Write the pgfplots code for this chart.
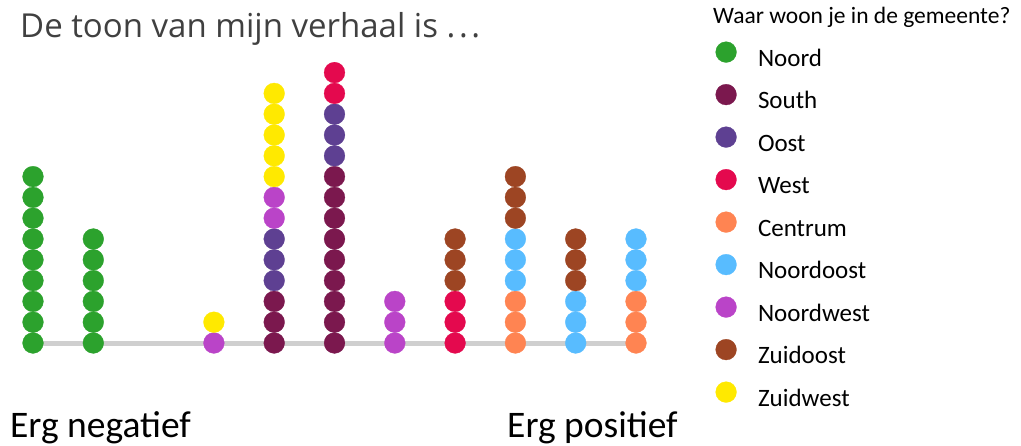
\documentclass[border=0pt]{standalone}
\usepackage{fontspec}
\setmainfont{Carlito}
\newfontfamily\titlefont{Open Sans}
\usepackage{pgfplots}
\pgfplotsset{compat=1.18}
\definecolor{cNoord}{RGB}{44,162,45}
\definecolor{cSouth}{RGB}{123,24,78}
\definecolor{cOost}{RGB}{94,64,146}
\definecolor{cWest}{RGB}{228,9,78}
\definecolor{cCentrum}{RGB}{255,132,82}
\definecolor{cNoordoost}{RGB}{88,188,255}
\definecolor{cNoordwest}{RGB}{186,68,200}
\definecolor{cZuidoost}{RGB}{157,69,35}
\definecolor{cZuidwest}{RGB}{255,233,0}
\definecolor{lgray}{RGB}{207,207,207}
\definecolor{titlegray}{RGB}{64,64,64}
\pgfplotsset{
  dot/.style={only marks, mark=*, mark size=10.4pt, color=#1, mark options={line width=0.3pt},
    legend image code/.code={\draw[##1] plot coordinates {(0pt,8pt)};}},
}
\begin{document}
\begin{tikzpicture}
\useasboundingbox (-2.85pt,-91.6pt) rectangle (1018.15pt,353.4pt);
\begin{axis}[
  at={(0pt,0pt)}, anchor=south west,
  scale only axis, width=663.3pt, height=296.4pt,
  xmin=-0.5, xmax=10.5, ymin=-0.5, ymax=13.75,
  hide axis,
  clip marker paths=true,
  legend cell align=left,
  legend style={at={(1.0744,1.0523)}, anchor=north west, draw=none, fill=none,
    inner sep=0pt, row sep=13.1pt, column sep=21.5pt,
    font=\fontsize{25}{30}\selectfont,
    nodes={inner sep=0pt, text height=17pt, text depth=5pt}},
]
\addplot[forget plot, color=lgray, line width=5pt] coordinates {(0,0) (10.07,0)};
% Noord
\addplot[dot=cNoord] coordinates {(0,0)(0,1)(0,2)(0,3)(0,4)(0,5)(0,6)(0,7)(0,8)
  (1,0)(1,1)(1,2)(1,3)(1,4)(1,5)};
\addlegendentry{Noord}
% South
\addplot[dot=cSouth] coordinates {(4,0)(4,1)(4,2)
  (5,0)(5,1)(5,2)(5,3)(5,4)(5,5)(5,6)(5,7)(5,8)};
\addlegendentry{South}
% Oost
\addplot[dot=cOost] coordinates {(4,3)(4,4)(4,5)(5,9)(5,10)(5,11)};
\addlegendentry{Oost}
% West
\addplot[dot=cWest] coordinates {(5,12)(5,13)(5,14)(7,0)(7,1)(7,2)};
\addlegendentry{West}
% Centrum
\addplot[dot=cCentrum] coordinates {(8,0)(8,1)(8,2)(10,0)(10,1)(10,2)};
\addlegendentry{Centrum}
% Noordoost
\addplot[dot=cNoordoost] coordinates {(8,3)(8,4)(8,5)(9,0)(9,1)(9,2)(10,3)(10,4)(10,5)};
\addlegendentry{Noordoost}
% Noordwest
\addplot[dot=cNoordwest] coordinates {(3,0)(4,6)(4,7)(6,0)(6,1)(6,2)};
\addlegendentry{Noordwest}
% Zuidoost
\addplot[dot=cZuidoost] coordinates {(7,3)(7,4)(7,5)(8,6)(8,7)(8,8)(9,3)(9,4)(9,5)};
\addlegendentry{Zuidoost}
% Zuidwest
\addplot[dot=cZuidwest] coordinates {(3,1)(4,8)(4,9)(4,10)(4,11)(4,12)};
\addlegendentry{Zuidwest}
\end{axis}
\node[anchor=base west, inner sep=0pt, text=titlegray, font=\titlefont\fontsize{33}{38}\selectfont] at (17.15pt,315.4pt) {De toon van mijn verhaal is .\kern3.6pt.\kern3.6pt.};
\node[anchor=base west, inner sep=0pt, font=\fontsize{23.5}{28}\selectfont] at (710.15pt,330.1pt) {Waar woon je in de gemeente?};
\node[anchor=base west, inner sep=0pt, font=\fontsize{37.5}{44}\selectfont] at (7.15pt,-83.6pt) {Erg negatief};
\node[anchor=base west, inner sep=0pt, font=\fontsize{37.5}{44}\selectfont] at (504.15pt,-83.6pt) {Erg positief};
\end{tikzpicture}
\end{document}
